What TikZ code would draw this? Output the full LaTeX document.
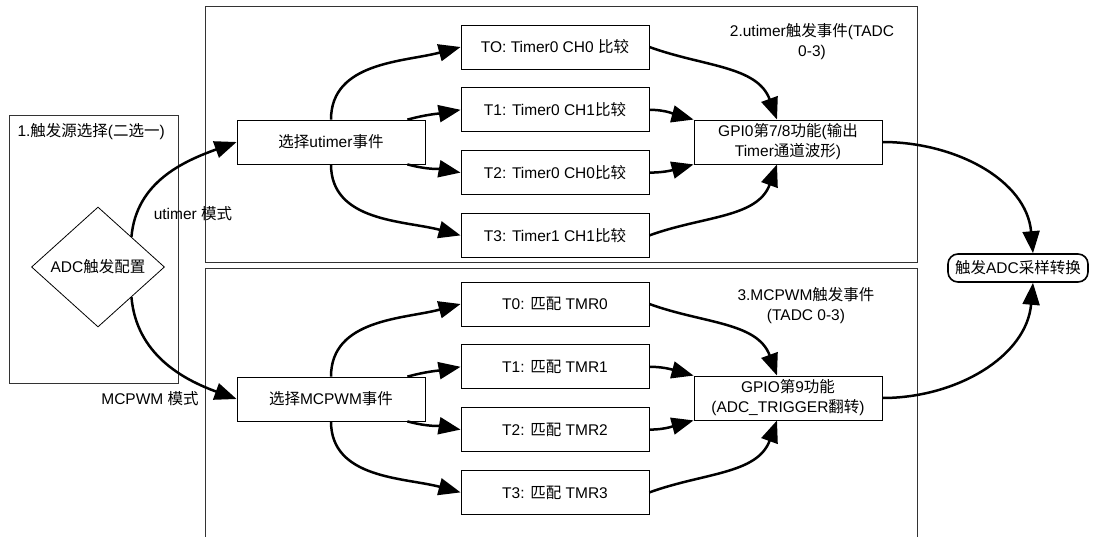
\documentclass[tikz,border=0pt]{standalone}
\usepackage{fontspec}
\setmainfont{Liberation Sans}
\newfontfamily\cjk{Noto Sans CJK SC}
\newcommand{\zh}[1]{{\cjk #1}}
\usetikzlibrary{positioning,arrows.meta,shapes.geometric}

\begin{document}
\begin{tikzpicture}[x=1pt, y=1pt, node distance=18pt,
    every node/.style={font=\fontsize{15.5}{20}\selectfont},
    evbox/.style={draw, line width=0.8pt, minimum width=188pt, minimum height=44pt, inner sep=1pt, align=center},
    flow/.style={line width=2.5pt, -{Triangle[length=22pt,width=17pt]}},
    frame/.style={draw=black!80, line width=0.8pt}]
    \useasboundingbox (0,0) rectangle (1093,-536);
    \clip (0,0) rectangle (1093,-536);

    % frames
    \draw[frame] (9,-115) rectangle (178,-383);
    \draw[frame] (205,-6) rectangle (917,-262);
    \draw[frame] (205,-268) rectangle (917,-560);

    % source selection
    \node[anchor=west] (srclbl) at (14,-132) {1.\zh{触发源选择}(\zh{二选一})};
    \node[diamond, draw, line width=0.8pt, minimum width=133pt, minimum height=120pt, inner sep=0pt] (adc) at (98,-267) {ADC\zh{触发配置}};
    \node (utmode) at (193,-214) {utimer \zh{模式}};
    \node (mcmode) at (150,-399) {MCPWM \zh{模式}};

    % utimer events
    \node[evbox] (utsel) at (331,-142) {\zh{选择}utimer\zh{事件}};
    \node[evbox] (ut0) at (555,-47) {TO: Timer0 CH0 \zh{比较}};
    \node[evbox, below=of ut0] (ut1) {T1: Timer0 CH1\zh{比较}};
    \node[evbox, below=of ut1] (ut2) {T2: Timer0 CH0\zh{比较}};
    \node[evbox, below=of ut2] (ut3) {T3: Timer1 CH1\zh{比较}};
    \node[evbox] (utgpio) at (788,-142) {GPI0\zh{第}7/8\zh{功能}(\zh{输出}\\Timer\zh{通道波形})};
    \node[align=center] (utlbl) at (812,-42) {2.utimer\zh{触发事件}(TADC\\0-3)};

    % MCPWM events
    \node[evbox] (mcsel) at (331,-399) {\zh{选择}MCPWM\zh{事件}};
    \node[evbox] (mc0) at (555,-304) {T0: \zh{匹配} TMR0};
    \node[evbox, below=of mc0] (mc1) {T1: \zh{匹配} TMR1};
    \node[evbox, below=of mc1] (mc2) {T2: \zh{匹配} TMR2};
    \node[evbox, below=of mc2] (mc3) {T3: \zh{匹配} TMR3};
    \node[evbox] (mcgpio) at (788,-398) {GPIO\zh{第}9\zh{功能}\\(ADC\_TRIGGER\zh{翻转})};
    \node[align=center] (mclbl) at (806,-306) {3.MCPWM\zh{触发事件}\\(TADC 0-3)};

    \node[draw, line width=1.6pt, rounded corners=10pt, minimum width=140pt, minimum height=28pt, inner sep=1pt] (adcconv) at (1018,-268) {\zh{触发}ADC\zh{采样转换}};

    % connectors
    \draw[flow] (adc.north east) to[out=85, in=200] (utsel.west);
    \draw[flow] (adc.south east) to[out=-85, in=160] (mcsel.west);

    \draw[flow] (utsel.north) to[out=90, in=195] (ut0.west);
    \draw[flow] ([xshift=-18pt]utsel.north east) to[out=15, in=190] (ut1.west);
    \draw[flow] ([xshift=-18pt]utsel.south east) to[out=-15, in=170] (ut2.west);
    \draw[flow] (utsel.south) to[out=-90, in=165] (ut3.west);
    \draw[flow] (ut0.east) to[out=-20, in=110] ([xshift=-11pt]utgpio.north);
    \draw[flow] (ut1.east) to[out=0, in=165] (utgpio.north west);
    \draw[flow] (ut2.east) to[out=0, in=195] (utgpio.south west);
    \draw[flow] (ut3.east) to[out=20, in=-110] ([xshift=-11pt]utgpio.south);

    \draw[flow] (mcsel.north) to[out=90, in=195] (mc0.west);
    \draw[flow] ([xshift=-18pt]mcsel.north east) to[out=15, in=190] (mc1.west);
    \draw[flow] ([xshift=-18pt]mcsel.south east) to[out=-15, in=170] (mc2.west);
    \draw[flow] (mcsel.south) to[out=-90, in=165] (mc3.west);
    \draw[flow] (mc0.east) to[out=-20, in=110] ([xshift=-11pt]mcgpio.north);
    \draw[flow] (mc1.east) to[out=0, in=165] (mcgpio.north west);
    \draw[flow] (mc2.east) to[out=0, in=195] (mcgpio.south west);
    \draw[flow] (mc3.east) to[out=20, in=-110] ([xshift=-11pt]mcgpio.south);

    \draw[flow] (utgpio.east) to[out=0, in=95] ([xshift=15pt]adcconv.north);
    \draw[flow] (mcgpio.east) to[out=0, in=-95] ([xshift=15pt]adcconv.south);
\end{tikzpicture}
\end{document}
